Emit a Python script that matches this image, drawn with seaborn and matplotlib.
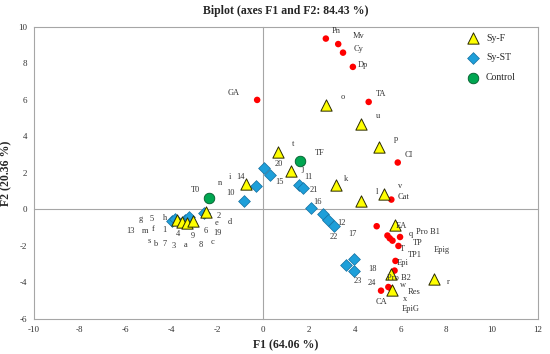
import numpy as np
import pandas as pd
import seaborn as sns
import matplotlib.pyplot as plt

# observations Sy-F (triangles)
syf_x = [2.75, 4.28, 5.08, 0.63, 1.22, -0.74, 3.17, 4.28, 5.28, 5.74, 5.59, 5.65, 7.48,
         -3.75, -3.55, -3.33, -3.05, -2.50]
syf_y = [5.71, 4.68, 3.44, 3.13, 2.09, 1.38, 1.34, 0.47, 0.83, -0.85, -3.53, -4.43, -3.82,
         -0.60, -0.68, -0.75, -0.62, -0.14]

# observations Sy-ST (diamonds)
syst_x = [0.04, 0.32, -0.31, -0.84, 1.56, 1.76, 2.07, 2.61, 2.83, 3.10, 3.96, 3.64, 3.96,
          -3.96, -3.85, -3.40, -3.22, -2.60]
syst_y = [2.29, 1.89, 1.29, 0.48, 1.34, 1.16, 0.10, -0.25, -0.56, -0.89, -2.73, -3.06, -3.37,
          -0.61, -0.55, -0.60, -0.43, -0.21]

# controls
ctrl_x = [1.59, -2.35]
ctrl_y = [2.66, 0.63]

# variables (red)
var_x = [2.74, 3.28, 3.49, 3.92, 4.61, 5.88, -0.26, 5.60,
         4.96, 5.43, 5.53, 5.65, 5.98, 5.91, 5.78, 5.74, 5.47, 5.59, 5.15]
var_y = [9.36, 9.06, 8.59, 7.81, 5.89, 2.57, 6.00, 0.54,
         -0.92, -1.43, -1.58, -1.71, -1.51, -2.00, -2.82, -3.35, -4.25, -4.34, -4.45]

# point labels (as placed on the chart)
lab_text = ["Pn", "Mv", "Cy", "Dp", "TA", "CI", "GA", "Cat", "EA", "Pro B1", "TP", "T", "TP1",
            "Epig", "Epi", "Pro B2", "Res", "CA", "EpiG",
            "o", "u", "p", "t", "j", "k", "l", "v", "q", "r", "w", "x", "g", "h", "m", "f",
            "s", "b", "a", "c", "e", "d", "n", "i",
            "1", "2", "3", "4", "5", "6", "7", "8", "9", "10", "11", "12", "13", "14", "15",
            "16", "17", "18", "19", "20", "21", "22", "23", "24", "T0", "TF"]
lab_x = [3.19, 4.15, 4.15, 4.37, 5.14, 6.38, -1.27, 6.14, 6.03, 7.19, 6.76, 6.08, 6.64,
         7.80, 6.10, 5.94, 6.61, 5.15, 6.43,
         3.49, 5.01, 5.81, 1.32, 1.70, 3.62, 4.98, 6.00, 6.46, 8.07, 6.10, 6.20, -5.34, -4.29,
         -5.15, -4.82, -4.99, -4.70, -3.39, -2.21, -2.02, -1.44, -1.89, -1.43,
         -4.29, -1.92, -3.90, -3.71, -4.86, -2.50, -4.31, -2.71, -3.07, -1.44, 1.98, 3.41,
         -5.78, -0.97, 0.70, 2.39, 3.89, 4.77, -1.98, 0.67, 2.23, 3.10, 4.12, 4.76, -2.93, 2.46]
lab_y = [9.78, 9.51, 8.79, 7.92, 6.33, 2.99, 6.38, 0.67, -0.90, -1.25, -1.85, -2.18, -2.49,
         -2.24, -2.95, -3.77, -4.52, -5.07, -5.47,
         6.15, 5.14, 3.85, 3.57, 2.20, 1.65, 0.96, 1.29, -1.34, -3.96, -4.14, -4.89, -0.54, -0.48,
         -1.18, -1.07, -1.71, -1.91, -1.96, -1.78, -0.76, -0.67, 1.47, 1.76,
         -1.14, -0.36, -2.02, -1.36, -0.54, -1.16, -1.91, -1.95, -1.45, 0.89, 1.78, -0.74,
         -1.16, 1.76, 1.49, 0.39, -1.36, -3.28, -1.30, 2.49, 1.05, -1.49, -3.92, -4.04, 1.07, 3.08]

sns.set_style("white")
plt.rcParams["font.family"] = ["Liberation Serif", "DejaVu Serif"]
plt.rcParams["axes.unicode_minus"] = False

fig = plt.figure(figsize=(5.5, 3.54), dpi=100)
ax = fig.add_axes([0.062, 0.099, 0.916, 0.825])

df_var = pd.DataFrame({"x": var_x, "y": var_y})
sns.scatterplot(data=df_var, x="x", y="y", ax=ax, color="#FF0000", marker="o", s=22,
                edgecolor="none", zorder=3, legend=False)
df_f = pd.DataFrame({"x": syf_x, "y": syf_y})
sns.scatterplot(data=df_f, x="x", y="y", ax=ax, color="#FFFF00", marker="^", s=66,
                edgecolor="#2a2a00", linewidth=0.7, zorder=4, label="Sy-F")
df_st = pd.DataFrame({"x": syst_x, "y": syst_y})
sns.scatterplot(data=df_st, x="x", y="y", ax=ax, color="#1E9FD9", marker="D", s=36,
                edgecolor="#156fa0", linewidth=0.5, zorder=3, label="Sy-ST")
df_c = pd.DataFrame({"x": ctrl_x, "y": ctrl_y})
sns.scatterplot(data=df_c, x="x", y="y", ax=ax, color="#00A651", marker="o", s=58,
                edgecolor="#005a2a", linewidth=0.6, zorder=4, label="Control")

for t, x, y in zip(lab_text, lab_x, lab_y):
    ax.text(x, y, t, fontsize=6, color="#333333", ha="center", va="center", zorder=5)

ax.set_xlim(-10, 12)
ax.set_ylim(-6, 10)
ax.set_xticks(np.arange(-10, 13, 2))
ax.set_yticks(np.arange(-6, 11, 2))
ax.tick_params(length=0, labelsize=6.5, colors="#333333", pad=5)
for sp in ax.spines.values():
    sp.set_color("#a6a6a6")
    sp.set_linewidth(0.8)
ax.set_xlabel("F1 (64.06 %)", fontsize=8.5, fontweight="bold", labelpad=4)
ax.set_ylabel("F2 (20.36 %)", fontsize=8.5, fontweight="bold", labelpad=4)
ax.set_title("Biplot (axes F1 and F2: 84.43 %)", fontsize=8.5, fontweight="bold", pad=9)

# zero axes with tick marks
ax0 = fig.add_axes(ax.get_position(), sharex=ax, sharey=ax)
ax0.patch.set_visible(False)
ax0.spines["top"].set_visible(False)
ax0.spines["right"].set_visible(False)
ax0.spines["left"].set_position(("data", 0))
ax0.spines["bottom"].set_position(("data", 0))
for k in ["left", "bottom"]:
    ax0.spines[k].set_color("#a6a6a6")
    ax0.spines[k].set_linewidth(0.8)
ax0.tick_params(direction="inout", length=4, width=0.7, colors="#a6a6a6",
                labelleft=False, labelbottom=False)
ax0.set_zorder(0)
ax.set_zorder(1)
ax.patch.set_visible(False)

ax.legend(loc="upper left", bbox_to_anchor=(0.845, 0.99), frameon=False, fontsize=7,
          labelspacing=1.1, handletextpad=0.3, borderaxespad=0)

fig.savefig("out.png", dpi=100)
